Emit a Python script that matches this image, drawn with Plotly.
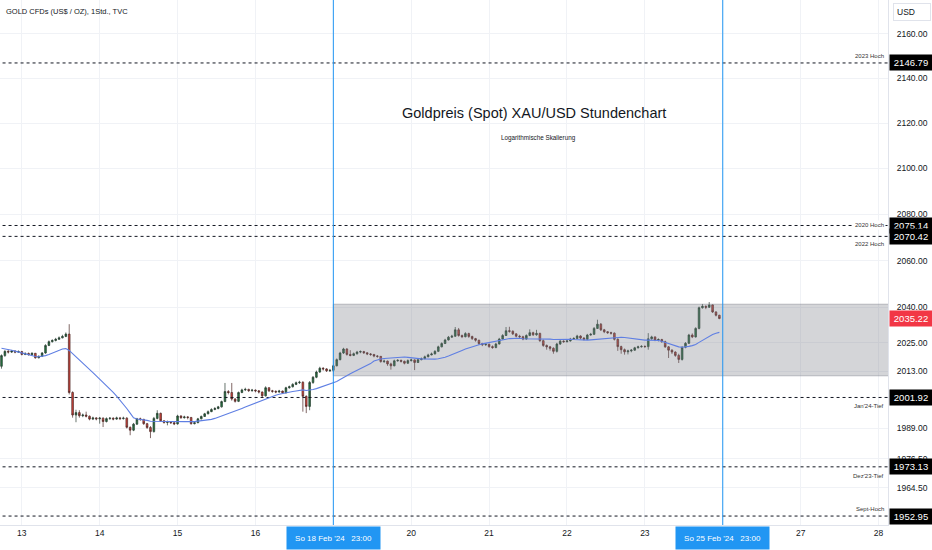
import math
import pandas as pd
import plotly.graph_objects as go

# Stundenkerzen GOLD (TVC), Mo 12.02. 16:00 UTC bis Fr 23.02. 21:00 UTC
# eine Zeile pro Handelssitzung (Sitzung beginnt 23:00 am Vortag)
first_open = 2015.0
closes = [
    2019.5, 2021.3, 2021.0, 2021.4, 2021.0, 2021.2,
    2020.0, 2020.4, 2019.9, 2020.5, 2018.6, 2019.2, 2020.6, 2023.8, 2025.4, 2025.9, 2026.4, 2027.0, 2027.6, 2028.6, 2004.0, 1994.6, 1995.6, 1994.3, 1994.6, 1994.1, 1992.9, 1993.4, 1993.0,
    1993.3, 1991.9, 1993.1, 1993.3, 1992.9, 1993.4, 1993.1, 1993.3, 1989.5, 1988.3, 1990.8, 1993.0, 1992.8, 1991.0, 1989.4, 1987.7, 1993.2, 1995.3, 1992.2, 1991.5, 1991.8, 1991.4, 1990.9,
    1994.2, 1993.5, 1993.8, 1993.6, 1991.0, 1991.4, 1993.0, 1994.0, 1995.1, 1996.0, 1996.9, 1997.3, 1998.0, 2000.2, 2004.4, 2004.0, 2001.3, 2000.3, 2004.0, 2005.1, 2005.3, 2004.8, 2005.0,
    2004.7, 2004.2, 2002.6, 2006.0, 2004.7, 2004.5, 2004.2, 2004.6, 2003.9, 2006.0, 2006.4, 2007.4, 2008.1, 2008.3, 2002.4, 1998.2, 2008.2, 2010.4, 2012.6, 2014.2, 2013.9, 2013.1, 2013.3,
    2015.2, 2017.8, 2020.6, 2022.3, 2020.0, 2019.6, 2020.3, 2021.0, 2021.2, 2020.7, 2020.2, 2020.0, 2019.3, 2019.2, 2017.0, 2017.2, 2016.0, 2015.2, 2017.3, 2017.5, 2017.1, 2016.3, 2017.4,
    2017.7, 2016.6, 2017.8, 2018.2, 2019.0, 2019.8, 2020.2, 2021.3, 2023.2, 2024.6, 2026.1, 2027.3, 2027.7, 2030.4, 2028.0, 2027.5, 2028.8, 2027.6, 2026.7, 2026.0, 2024.6, 2024.1, 2024.3,
    2023.3, 2022.9, 2024.4, 2026.5, 2028.0, 2030.0, 2029.8, 2028.7, 2027.7, 2027.5, 2026.5, 2028.0, 2029.2, 2028.3, 2028.9, 2025.8, 2023.8, 2023.2, 2022.6, 2021.3, 2024.4, 2025.6, 2025.4,
    2025.7, 2026.5, 2026.7, 2027.8, 2026.9, 2026.4, 2028.2, 2028.5, 2031.0, 2032.8, 2030.4, 2029.6, 2029.2, 2029.0, 2026.4, 2023.3, 2022.0, 2021.1, 2021.5, 2021.8, 2022.8, 2023.2, 2023.4,
    2023.3, 2026.6, 2027.4, 2026.1, 2026.3, 2025.4, 2023.2, 2021.8, 2021.0, 2019.6, 2017.9, 2023.0, 2024.7, 2028.2, 2027.4, 2031.0, 2039.8, 2040.4, 2040.0, 2041.0, 2038.0, 2036.6, 2035.22,
]
highs = [
    2020.0, 2021.8, 2022.0, 2021.9, 2021.8, 2021.7,
    2021.5, 2020.9, 2020.8, 2020.9, 2020.6, 2019.6, 2021.0, 2024.3, 2025.9, 2026.4, 2027.0, 2027.6, 2028.3, 2029.3, 2032.8, 2004.5, 1996.8, 1996.6, 1995.2, 1996.0, 1994.4, 1993.9, 1993.7,
    1993.8, 1993.6, 1993.6, 1993.7, 1993.6, 1993.9, 1993.8, 1993.9, 1993.7, 1989.8, 1991.3, 1993.4, 1993.5, 1993.0, 1991.3, 1990.0, 1993.8, 1996.6, 1995.6, 1992.4, 1992.3, 1992.1, 1992.1,
    1994.7, 1994.5, 1994.3, 1994.1, 1993.7, 1992.0, 1993.4, 1994.4, 1995.5, 1996.5, 1997.4, 1997.9, 1998.4, 2000.6, 2008.0, 2005.0, 2008.0, 2001.6, 2004.4, 2005.6, 2006.0, 2005.6, 2005.5,
    2005.3, 2005.0, 2004.4, 2006.6, 2006.2, 2005.1, 2004.9, 2005.1, 2004.8, 2006.4, 2006.9, 2007.9, 2008.6, 2008.9, 2008.7, 2002.8, 2008.8, 2010.9, 2013.2, 2014.8, 2014.6, 2014.2, 2013.9,
    2015.7, 2018.3, 2021.1, 2022.8, 2022.6, 2021.8, 2020.8, 2021.5, 2021.7, 2021.5, 2020.9, 2020.6, 2020.2, 2019.7, 2019.3, 2017.8, 2017.4, 2016.5, 2017.8, 2018.0, 2017.8, 2017.4, 2017.9,
    2018.2, 2017.9, 2018.2, 2018.7, 2019.5, 2020.3, 2020.8, 2021.8, 2023.7, 2025.1, 2026.6, 2027.8, 2028.3, 2031.6, 2031.2, 2028.4, 2029.4, 2029.2, 2027.9, 2027.0, 2026.2, 2024.9, 2024.8,
    2024.5, 2023.8, 2024.9, 2027.0, 2028.6, 2031.6, 2031.7, 2030.2, 2028.9, 2028.3, 2027.9, 2028.5, 2030.6, 2029.6, 2030.4, 2029.2, 2026.3, 2024.2, 2023.6, 2023.0, 2024.9, 2026.1, 2026.0,
    2026.2, 2027.0, 2027.3, 2028.3, 2028.1, 2027.3, 2028.7, 2029.1, 2031.6, 2034.7, 2033.3, 2030.8, 2029.9, 2029.6, 2029.3, 2026.8, 2023.7, 2022.5, 2022.0, 2022.3, 2023.2, 2023.7, 2023.9,
    2023.8, 2029.0, 2027.9, 2027.6, 2026.8, 2026.6, 2025.8, 2023.5, 2022.2, 2021.3, 2020.3, 2023.5, 2025.2, 2028.7, 2028.9, 2031.5, 2040.3, 2041.4, 2040.8, 2042.2, 2041.2, 2038.3, 2036.8,
]
lows = [
    2014.0, 2019.0, 2020.4, 2020.6, 2020.5, 2020.6,
    2019.6, 2019.7, 2019.5, 2019.6, 2018.2, 2018.3, 2018.9, 2020.3, 2023.5, 2025.0, 2025.5, 2026.1, 2026.8, 2027.3, 2003.2, 1993.5, 1991.6, 1993.5, 1993.7, 1993.6, 1992.4, 1992.5, 1992.4,
    1991.0, 1989.6, 1991.5, 1992.6, 1992.4, 1992.6, 1992.5, 1992.7, 1989.0, 1986.2, 1987.9, 1990.5, 1992.2, 1990.5, 1988.8, 1985.0, 1987.3, 1992.8, 1991.7, 1991.0, 1990.3, 1990.9, 1990.4,
    1990.6, 1993.0, 1993.1, 1992.8, 1990.6, 1990.7, 1991.2, 1992.8, 1993.8, 1994.9, 1995.8, 1996.6, 1997.0, 1997.7, 2000.0, 2003.2, 2000.6, 1999.8, 2000.0, 2003.7, 2004.6, 2004.2, 2004.3,
    2004.1, 2003.6, 2002.0, 2002.3, 2004.2, 2003.9, 2003.7, 2003.9, 2003.4, 2003.6, 2005.6, 2006.1, 2007.1, 2007.6, 1996.0, 1995.4, 1996.6, 2007.6, 2010.0, 2012.2, 2013.2, 2012.6, 2012.6,
    2012.6, 2015.0, 2017.5, 2020.2, 2019.5, 2019.2, 2019.3, 2019.9, 2020.5, 2020.2, 2019.7, 2019.4, 2018.8, 2018.6, 2016.5, 2016.4, 2015.2, 2013.6, 2015.0, 2016.9, 2016.6, 2015.8, 2016.0,
    2017.0, 2013.4, 2016.4, 2017.5, 2018.0, 2018.8, 2019.6, 2020.0, 2021.0, 2023.0, 2024.4, 2025.9, 2027.0, 2027.4, 2027.5, 2026.9, 2027.2, 2027.0, 2026.1, 2025.4, 2024.0, 2023.5, 2023.6,
    2022.8, 2022.4, 2022.6, 2024.2, 2026.3, 2027.8, 2029.2, 2028.2, 2027.2, 2026.8, 2026.0, 2026.2, 2027.7, 2027.8, 2027.9, 2025.3, 2023.2, 2022.0, 2021.6, 2020.3, 2020.8, 2024.0, 2024.9,
    2025.0, 2025.4, 2026.1, 2026.5, 2026.4, 2025.9, 2026.1, 2027.9, 2028.2, 2030.8, 2029.9, 2029.0, 2028.7, 2028.4, 2025.9, 2021.5, 2020.3, 2019.9, 2020.0, 2020.9, 2021.5, 2022.5, 2022.9,
    2022.8, 2022.0, 2026.2, 2025.6, 2025.5, 2024.9, 2022.8, 2018.5, 2020.2, 2019.0, 2016.4, 2017.4, 2022.6, 2024.4, 2026.9, 2027.1, 2030.6, 2039.4, 2039.2, 2039.7, 2037.6, 2036.1, 2034.9,
]
ma_head = [2022.6, 2022.4, 2022.1, 2021.8, 2021.4, 2021.0, 2020.6, 2020.2, 2019.7, 2019.3,
           2019.1, 2019.0, 2019.1, 2019.5, 2020.0, 2020.6, 2021.2, 2021.8, 2022.3]
ma_len = 20

day_labels = ["13", "14", "15", "16", "19", "20", "21", "22", "23", "26", "27", "28"]
first_session_bar = 6
bars_per_session = 23

marker_days = ["19", "26"]
marker_labels = ["So 18 Feb '24\u00a0\u00a0\u00a023:00", "So 25 Feb '24\u00a0\u00a0\u00a023:00"]

key_levels = [2146.79, 2075.14, 2070.42, 2001.92, 1973.13, 1952.95]
level_names = ["2023 Hoch", "2020 Hoch", "2022 Hoch", "Jan'24-Tief", "Dez'23-Tief", "Sept-Hoch"]
level_text_shift = [7, 0, -8, -9, -9, 7]

box_low, box_high = 2011.0, 2041.3
last_price = 2035.22

price_ticks = [2160, 2140, 2120, 2100, 2080, 2060, 2040, 2025, 2013, 1989, 1976.5, 1964.5]

title = "Goldpreis (Spot) XAU/USD Stundenchart"
subtitle = "Logarithmische Skalierung"
header = "GOLD CFDs (US$ / OZ), 1Std., TVC"

font = "Liberation Sans, Arial, sans-serif"
ink = "#131722"
blue = "#2196F3"

bars = list(range(len(closes)))
opens = [first_open] + closes[:-1]
highs = [max(h, o, c) for h, o, c in zip(highs, opens, closes)]
lows = [min(l, o, c) for l, o, c in zip(lows, opens, closes)]
ma = pd.Series(closes).rolling(ma_len).mean().tolist()
ma[:len(ma_head)] = ma_head

tickvals = [first_session_bar + bars_per_session * k for k in range(len(day_labels))]
marker_bars = [tickvals[day_labels.index(d)] for d in marker_days]
# unter den blauen Zeitmarken steht kein Tageslabel
ticktext = ["" if d in marker_days else d for d in day_labels]
x_range = [-0.44, 261.8]

fig = go.Figure()

# grauer Kasten ab Wochenbeginn 19.02.
fig.add_trace(go.Scatter(
    x=[marker_bars[0], 300, 300, marker_bars[0], marker_bars[0]],
    y=[box_low, box_low, box_high, box_high, box_low],
    mode="lines", fill="toself", fillcolor="rgba(120,123,134,0.32)",
    line=dict(color="rgba(120,123,134,0.45)", width=1),
    hoverinfo="skip", showlegend=False))

for lvl in key_levels:
    fig.add_trace(go.Scatter(
        x=[-5, 300], y=[lvl, lvl], mode="lines",
        line=dict(color=ink, width=1, dash="3px,3px"),
        hoverinfo="skip", showlegend=False))

fig.add_trace(go.Candlestick(
    x=bars, open=opens, high=highs, low=lows, close=closes,
    increasing=dict(line=dict(color="#263a2e", width=0.7), fillcolor="#22763f"),
    decreasing=dict(line=dict(color="#4a2624", width=0.7), fillcolor="#d2443c"),
    whiskerwidth=0, showlegend=False))

fig.add_trace(go.Scatter(
    x=bars, y=ma, mode="lines", line=dict(color="#5f7fe3", width=1.1),
    hoverinfo="skip", showlegend=False))

for b in marker_bars:
    fig.add_shape(type="line", xref="x", yref="paper", x0=b, x1=b, y0=0, y1=1,
                  line=dict(color=blue, width=1))

ann = []
ann.append(dict(text=header, xref="paper", yref="paper", x=0, y=1, xanchor="left", yanchor="middle",
                xshift=4, yshift=-11, showarrow=False, font=dict(family=font, size=7.5, color=ink)))
ann.append(dict(text=title, xref="paper", yref="paper", x=0.601, y=0.804, showarrow=False,
                font=dict(family=font, size=14.5, color=ink)))
ann.append(dict(text=subtitle, xref="paper", yref="paper", x=0.606, y=0.749, showarrow=False,
                font=dict(family=font, size=6.3, color=ink)))
ann.append(dict(text="USD", xref="paper", yref="paper", x=1, y=1, xanchor="left", yanchor="middle",
                xshift=5, yshift=-12, showarrow=False, bordercolor="#e0e3eb", borderwidth=1, borderpad=3,
                width=30, align="left", font=dict(family=font, size=8.5, color=ink)))

for lvl, name, shift in zip(key_levels, level_names, level_text_shift):
    ann.append(dict(text=name, xref="paper", yref="y", x=1, y=math.log10(lvl), xanchor="right",
                    yanchor="middle", xshift=-2, yshift=shift, showarrow=False,
                    bgcolor="white" if shift == 0 else None,
                    font=dict(family=font, size=6, color="#333")))
    ann.append(dict(text=f"{lvl:.2f}", xref="paper", yref="y", x=1, y=math.log10(lvl), xanchor="left",
                    yanchor="middle", xshift=1, showarrow=False, bgcolor="#000000", borderpad=2,
                    width=38, font=dict(family=font, size=9.5, color="white")))

ann.append(dict(text=f"{last_price:.2f}", xref="paper", yref="y", x=1, y=math.log10(last_price),
                xanchor="left", yanchor="middle", xshift=1, showarrow=False, bgcolor="#F23645",
                borderpad=2, width=38, font=dict(family=font, size=9.5, color="white")))

for b, lab in zip(marker_bars, marker_labels):
    ann.append(dict(text=lab, xref="x", yref="paper", x=b, y=0, yanchor="top", yshift=-1,
                    showarrow=False, bgcolor=blue, borderpad=3, width=87, height=16,
                    font=dict(family=font, size=8, color="white")))

fig.update_layout(
    width=932, height=550,
    margin=dict(l=0, r=44, t=0, b=25, autoexpand=False),
    paper_bgcolor="white", plot_bgcolor="white",
    showlegend=False, annotations=ann,
    xaxis=dict(range=x_range, tickvals=tickvals, ticktext=ticktext, showgrid=True,
               gridcolor="#f0f2f6", zeroline=False, showline=True, linecolor="#e0e3eb",
               ticks="", rangeslider=dict(visible=False), automargin=False,
               tickfont=dict(family=font, size=8.5, color=ink)),
    yaxis=dict(type="log", range=[3.28988, 3.33750], side="right", tickvals=price_ticks,
               ticktext=[f"{v:.2f}" for v in price_ticks], showgrid=True, gridcolor="#f0f2f6",
               zeroline=False, showline=True, linecolor="#e0e3eb", ticks="", automargin=False,
               ticklabelstandoff=6, tickfont=dict(family=font, size=8.5, color=ink)),
)

fig.write_html("out.html", config={"displayModeBar": False},
               post_script="document.body.style.margin='0';")
